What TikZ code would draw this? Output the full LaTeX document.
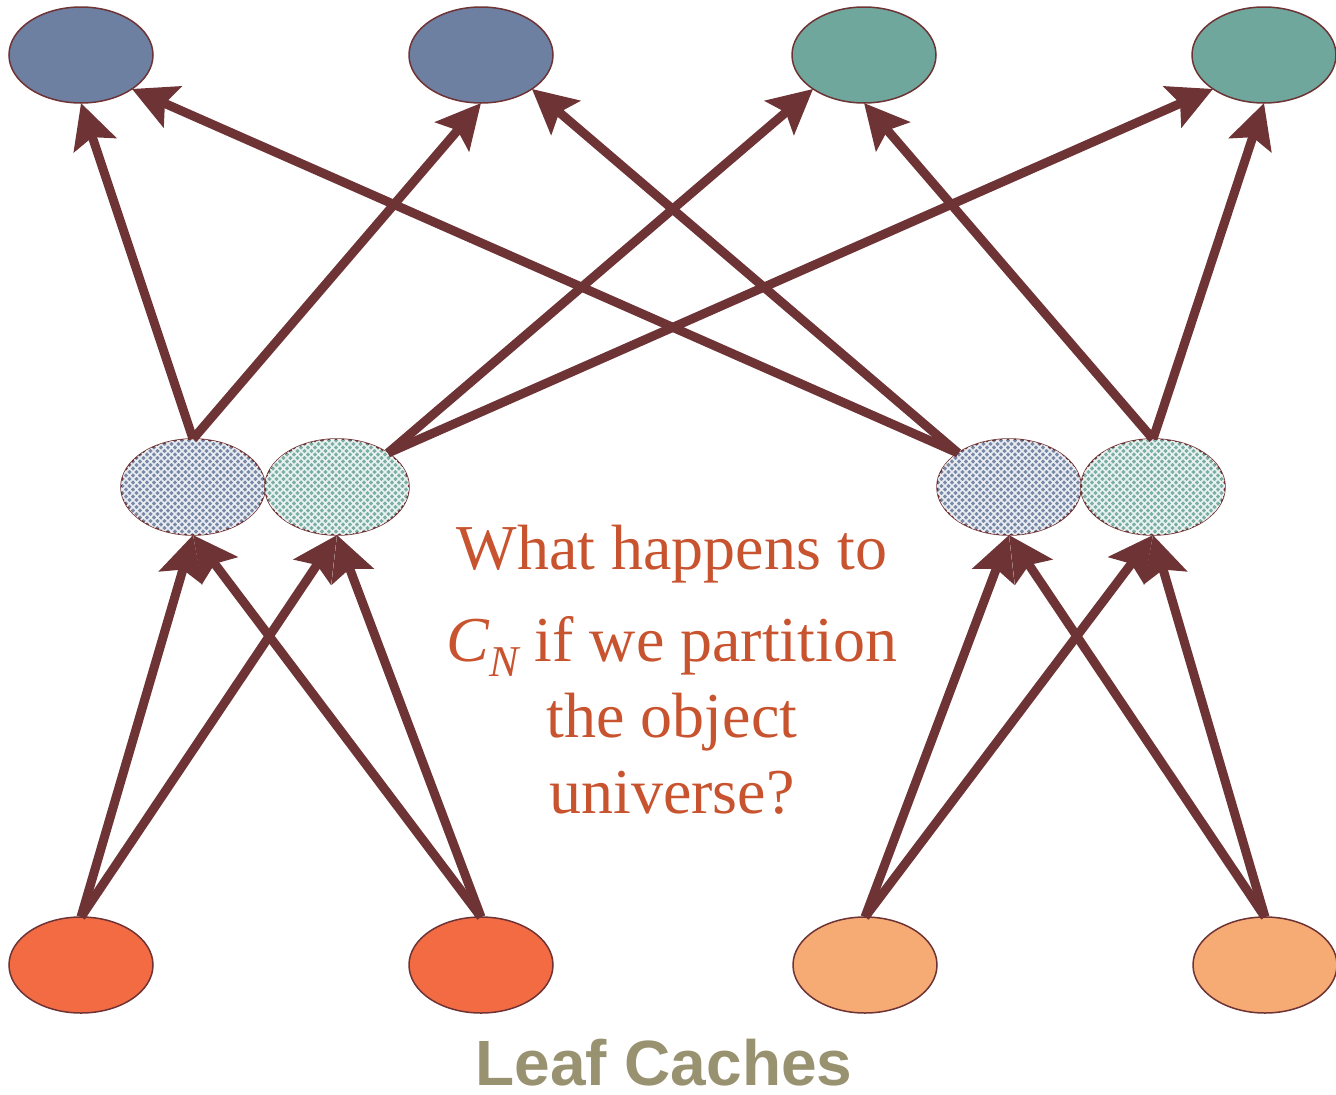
\documentclass[tikz,border=0pt]{standalone}
\usepackage{fontspec}
\setmainfont{Liberation Serif}
\newfontfamily\labelsans{Liberation Sans}
\usetikzlibrary{shapes.geometric,arrows.meta,patterns}

\definecolor{linkred}{RGB}{110,51,53}
\definecolor{slateblue}{RGB}{109,128,162}
\definecolor{seateal}{RGB}{111,167,156}
\definecolor{leafred}{RGB}{242,107,67}
\definecolor{leafpeach}{RGB}{246,170,116}
\definecolor{asktext}{RGB}{200,83,47}
\definecolor{captionolive}{RGB}{152,146,112}

% fine diagonal lattice for the partitioned caches
\pgfdeclarepatternformonly{diamondgrid}{\pgfqpoint{-1pt}{-1pt}}{\pgfqpoint{8pt}{8pt}}{\pgfqpoint{7pt}{7pt}}{%
  \pgfsetlinewidth{1.6pt}%
  \pgfpathmoveto{\pgfqpoint{0pt}{0pt}}\pgfpathlineto{\pgfqpoint{7pt}{7pt}}%
  \pgfpathmoveto{\pgfqpoint{0pt}{7pt}}\pgfpathlineto{\pgfqpoint{7pt}{0pt}}%
  \pgfusepath{stroke}%
}

\tikzset{
  cache/.style={ellipse, draw=linkred, line width=1.5pt, minimum width=144pt,
    minimum height=96pt, inner sep=0pt, outer sep=0pt},
  solidcache/.style={cache, fill=#1},
  splitcache/.style={cache, fill=#1!92!white,
    postaction={pattern=diamondgrid, pattern color=white!85!#1}},
  link/.style={draw=linkred, line width=9pt,
    -{Stealth[length=44pt, width=44pt, inset=8pt]}},
}

\begin{document}
\begin{tikzpicture}[x=1pt, y=-1pt]
\useasboundingbox (0,0) rectangle (1336,1095);

% root caches
\node[solidcache=slateblue] (t1) at (81,55) {};
\node[solidcache=slateblue] (t2) at (481,55) {};
\node[solidcache=seateal]   (t3) at (864,55) {};
\node[solidcache=seateal]   (t4) at (1264,55) {};

% intermediate caches, split by object universe
\node[splitcache=slateblue] (m1) at (193,487) {};
\node[splitcache=seateal]   (m2) at (337,487) {};
\node[splitcache=slateblue] (m3) at (1009,487) {};
\node[splitcache=seateal]   (m4) at (1153,487) {};

% leaf caches
\node[solidcache=leafred]   (b1) at (81,965) {};
\node[solidcache=leafred]   (b2) at (481,965) {};
\node[solidcache=leafpeach] (b3) at (865,965) {};
\node[solidcache=leafpeach] (b4) at (1265,965) {};

% leaves to intermediate
\draw[link] (b1.north) -- (m1.south);
\draw[link] (b1.north) -- (m2.south);
\draw[link] (b2.north) -- (m1.south);
\draw[link] (b2.north) -- (m2.south);
\draw[link] (b3.north) -- (m3.south);
\draw[link] (b3.north) -- (m4.south);
\draw[link] (b4.north) -- (m3.south);
\draw[link] (b4.north) -- (m4.south);

% intermediate to roots
\draw[link] (m1.north) -- (t1.south);
\draw[link] (m1.north) -- (t2.south);
\draw[link] (m2.north east) -- (t3.south west);
\draw[link] (m2.north east) -- (t4.south west);
\draw[link] (m3.north west) -- (t1.south east);
\draw[link] (m3.north west) -- (t2.south east);
\draw[link] (m4.north) -- (t3.south);
\draw[link] (m4.north) -- (t4.south);

% question (base anchor sits on the last line)
\node[text=asktext, align=center, anchor=base, font=\fontsize{64}{76}\selectfont]
  (ask) at (672,813)
  {What happens to\\[16pt]
   {\itshape C}\raisebox{-15pt}{\fontsize{44}{44}\selectfont\itshape N} if we partition\\
   the object\\ universe?};

% caption
\node[text=captionolive, anchor=base, inner sep=0pt,
      font=\labelsans\bfseries\fontsize{64}{64}\selectfont]
  (caption) at (664,1085) {Leaf Caches};
\end{tikzpicture}
\end{document}
